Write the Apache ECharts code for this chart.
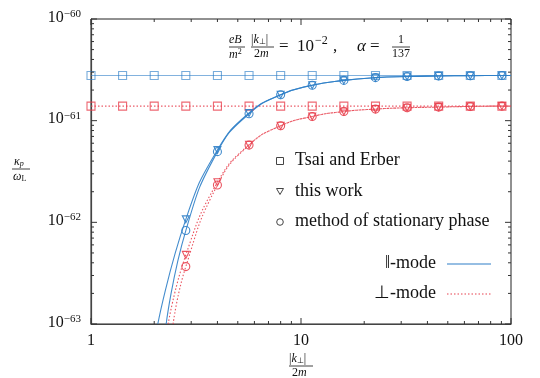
<!DOCTYPE html>
<html>
<head>
<meta charset="UTF-8">
<title>kappa_p vs |k_perp|/2m</title>
<script type="text/javascript" src="https://cdn.jsdelivr.net/npm/echarts@6/dist/echarts.min.js"></script>
<style>
  html, body { margin: 0; padding: 0; background: #fff; }
  #container { width: 540px; height: 378px; }
</style>
</head>
<body>
<div id="container"></div>
<script type="text/javascript">
// sample points |k_perp|/2m (markers)
var xSample = [1, 1.414, 2, 2.828, 4, 5.657, 8, 11.31, 16, 22.63, 32, 45.25, 64, 90.51];
// Tsai and Erber asymptotic values
var parTsai  = [2.78e-61, 2.78e-61, 2.78e-61, 2.78e-61, 2.78e-61, 2.78e-61, 2.78e-61, 2.78e-61, 2.78e-61, 2.78e-61, 2.78e-61, 2.78e-61, 2.78e-61, 2.78e-61];
var perpTsai = [1.39e-61, 1.39e-61, 1.39e-61, 1.39e-61, 1.39e-61, 1.39e-61, 1.39e-61, 1.39e-61, 1.39e-61, 1.39e-61, 1.39e-61, 1.39e-61, 1.39e-61, 1.39e-61];

// points of this work / stationary phase
var xCurve    = [2.828, 4, 5.657, 8, 11.31, 16, 22.63, 32, 45.25, 64, 90.51];
var parWork   = [1.07e-62, 5.15e-62, 1.19e-61, 1.80e-61, 2.23e-61, 2.49e-61, 2.65e-61, 2.72e-61, 2.75e-61, 2.77e-61, 2.78e-61];
var parPhase  = [8.3e-63, 4.96e-62, 1.17e-61, 1.80e-61, 2.23e-61, 2.49e-61, 2.65e-61, 2.72e-61, 2.75e-61, 2.77e-61, 2.78e-61];
var perpWork  = [4.78e-63, 2.48e-62, 5.80e-62, 8.9e-62, 1.10e-61, 1.23e-61, 1.30e-61, 1.34e-61, 1.36e-61, 1.38e-61, 1.39e-61];
var perpPhase = [3.67e-63, 2.33e-62, 5.75e-62, 8.9e-62, 1.10e-61, 1.23e-61, 1.30e-61, 1.34e-61, 1.36e-61, 1.38e-61, 1.39e-61];

// where the curves leave the bottom of the frame, and the right edge
var curveStartX = { parWork: 2.08, parPhase: 2.28, perpWork: 2.33, perpPhase: 2.46 };
var xEnd = 100;

// axis labels
var xTickLabels = ['1', '10', '100'];
var yTickExps = ['\u221263', '\u221262', '\u221261', '\u221260'];
var xMinorTicks = [2, 3, 4, 5, 6, 7, 8, 9, 20, 30, 40, 50, 60, 70, 80, 90];
var xMajorTicks = [1, 10, 100];
var yMinorTicks = [2e-63, 3e-63, 4e-63, 5e-63, 6e-63, 7e-63, 8e-63, 9e-63,
                   2e-62, 3e-62, 4e-62, 5e-62, 6e-62, 7e-62, 8e-62, 9e-62,
                   2e-61, 3e-61, 4e-61, 5e-61, 6e-61, 7e-61, 8e-61, 9e-61];
var yMajorTicks = [1e-63, 1e-62, 1e-61, 1e-60];

var BLUE = '#2f7fc8';
var RED = '#e8414f';
var FONT = 'Liberation Serif';
// plot y in units of 1e-63 (log axis rounding breaks on tiny numbers)
var UNIT = 1e-63;
var Y_MIN = 1, Y_MAX = 1000, X_MIN = 1, X_MAX = 100;

function pairs(xs, ys) {
    var out = [];
    for (var i = 0; i < xs.length; i++) out.push([xs[i], ys[i] / UNIT]);
    return out;
}
function curve(key, ys) {
    var d = [[curveStartX[key], Y_MIN]].concat(pairs(xCurve, ys));
    d.push([xEnd, ys[ys.length - 1] / UNIT]);
    return d;
}
function lineSeries(data, color, type, opacity, smooth) {
    return {
        type: 'line', data: data, symbol: 'none', smooth: smooth || false,
        lineStyle: { color: color, width: 1.1, type: type, opacity: opacity },
        clip: true, silent: true, z: 2
    };
}
function markerSeries(data, color, symbol, size, rotate, opacity) {
    return {
        type: 'scatter', data: data, symbol: symbol, symbolSize: size, symbolRotate: rotate || 0,
        itemStyle: { color: 'rgba(255,255,255,0)', borderColor: color, borderWidth: 1.1, opacity: opacity },
        silent: true, z: 3
    };
}
// ticks drawn on all four sides through the axis scales
function tickSeries(vals, dir, len) {
    return {
        type: 'custom', silent: true, clip: false, z: 5,
        data: vals.map(function (v) { return dir === 'x' ? [v, Y_MIN] : [X_MIN, v / UNIT]; }),
        renderItem: function (params, api) {
            var a, b, shape1, shape2;
            if (dir === 'x') {
                a = api.coord([api.value(0), Y_MIN]);
                b = api.coord([api.value(0), Y_MAX]);
                shape1 = { x1: a[0], y1: a[1], x2: a[0], y2: a[1] - len };
                shape2 = { x1: b[0], y1: b[1], x2: b[0], y2: b[1] + len };
            } else {
                a = api.coord([X_MIN, api.value(1)]);
                b = api.coord([X_MAX, api.value(1)]);
                shape1 = { x1: a[0], y1: a[1], x2: a[0] + len, y2: a[1] };
                shape2 = { x1: b[0], y1: b[1], x2: b[0] - len, y2: b[1] };
            }
            var st = { stroke: '#333', lineWidth: 1 };
            return { type: 'group', children: [
                { type: 'line', shape: shape1, style: st },
                { type: 'line', shape: shape2, style: st }
            ] };
        }
    };
}

var chart = echarts.init(document.getElementById('container'), null, { renderer: 'canvas' });

var legendText = { fontFamily: FONT, fontSize: 18, fill: '#111' };
var ital = function (size) { return { fontFamily: FONT, fontStyle: 'italic', fontSize: size }; };

var option = {
    animation: false,
    backgroundColor: '#fff',
    grid: { left: 91, right: 29, top: 19, bottom: 54, show: true, borderColor: '#222', borderWidth: 1, backgroundColor: 'transparent' },
    xAxis: {
        type: 'log', logBase: 10, min: X_MIN, max: X_MAX,
        axisLine: { show: true, lineStyle: { color: '#444', width: 1.2 } },
        axisTick: { show: false },
        splitLine: { show: false },
        axisLabel: {
            margin: 9, fontFamily: FONT, fontSize: 16, color: '#111',
            formatter: function (v, i) { return xTickLabels[i]; }
        }
    },
    yAxis: {
        type: 'log', logBase: 10, min: Y_MIN, max: Y_MAX,
        axisLine: { show: true, lineStyle: { color: '#444', width: 1.2 } },
        axisTick: { show: false },
        splitLine: { show: false },
        axisLabel: {
            margin: 10, color: '#111', padding: [0, 0, 3, 0],
            formatter: function (v, i) { return '{b|10}{e|' + yTickExps[i] + '}'; },
            rich: {
                b: { fontFamily: FONT, fontSize: 16, color: '#111', lineHeight: 18 },
                e: { fontFamily: FONT, fontSize: 11, color: '#111', lineHeight: 12, verticalAlign: 'top' }
            }
        }
    },
    series: [
        lineSeries(pairs(xSample.concat([xEnd]), parTsai.concat([parTsai[0]])), BLUE, 'solid', 0.6),
        lineSeries(pairs(xSample.concat([xEnd]), perpTsai.concat([perpTsai[0]])), RED, [1.5, 2], 0.85),
        lineSeries(curve('parWork', parWork), BLUE, 'solid', 0.9, 0.5),
        lineSeries(curve('parPhase', parPhase), BLUE, 'solid', 0.9, 0.5),
        lineSeries(curve('perpWork', perpWork), RED, [1.5, 2], 0.9, 0.5),
        lineSeries(curve('perpPhase', perpPhase), RED, [1.5, 2], 0.9, 0.5),
        markerSeries(pairs(xSample, parTsai), BLUE, 'rect', 8, 0, 0.65),
        markerSeries(pairs(xSample, perpTsai), RED, 'rect', 8, 0, 0.8),
        markerSeries(pairs(xCurve, parWork), BLUE, 'triangle', 7, 180, 0.9),
        markerSeries(pairs(xCurve, perpWork), RED, 'triangle', 7, 180, 0.9),
        markerSeries(pairs(xCurve, parPhase), BLUE, 'circle', 8, 0, 0.9),
        markerSeries(pairs(xCurve, perpPhase), RED, 'circle', 8, 0, 0.9),
        tickSeries(xMinorTicks, 'x', 3),
        tickSeries(xMajorTicks, 'x', 6),
        tickSeries(yMinorTicks, 'y', 3),
        tickSeries(yMajorTicks, 'y', 6)
    ],
    graphic: [
        // formula at top
        { type: 'text', left: 229, top: 34, style: Object.assign({ text: 'eB', fill: '#111' }, ital(12)) },
        { type: 'line', shape: { x1: 229, y1: 47, x2: 245, y2: 47 }, style: { stroke: '#111', lineWidth: 0.8 } },
        { type: 'text', left: 229, top: 48, style: { text: '{i|m}{s|2}', fill: '#111', rich: {
            i: { fontFamily: FONT, fontStyle: 'italic', fontSize: 12, lineHeight: 13 },
            s: { fontFamily: FONT, fontSize: 8, lineHeight: 9, verticalAlign: 'top' } } } },
        { type: 'text', left: 251, top: 34, style: { text: '|{i|k}{s|\u22a5}|', fill: '#111', fontFamily: FONT, fontSize: 12, rich: {
            i: ital(12),
            s: { fontFamily: FONT, fontSize: 8, verticalAlign: 'bottom', lineHeight: 10 } } } },
        { type: 'line', shape: { x1: 251, y1: 47, x2: 274, y2: 47 }, style: { stroke: '#111', lineWidth: 0.8 } },
        { type: 'text', left: 254, top: 48, style: { text: '2{i|m}', fill: '#111', fontFamily: FONT, fontSize: 12, rich: { i: ital(12) } } },
        { type: 'text', left: 279, top: 38, style: { text: '=', fill: '#111', fontFamily: FONT, fontSize: 17 } },
        { type: 'text', left: 297, top: 38, style: { text: '10', fill: '#111', fontFamily: FONT, fontSize: 17 } },
        { type: 'text', left: 315, top: 35, style: { text: '\u22122', fill: '#111', fontFamily: FONT, fontSize: 12 } },
        { type: 'text', left: 333, top: 38, style: { text: ',', fill: '#111', fontFamily: FONT, fontSize: 17 } },
        { type: 'text', left: 357, top: 38, style: Object.assign({ text: '\u03b1', fill: '#111' }, ital(17)) },
        { type: 'text', left: 370, top: 38, style: { text: '=', fill: '#111', fontFamily: FONT, fontSize: 17 } },
        { type: 'text', left: 398, top: 34, style: { text: '1', fill: '#111', fontSize: 12, fontFamily: FONT } },
        { type: 'line', shape: { x1: 392, y1: 47, x2: 410, y2: 47 }, style: { stroke: '#111', lineWidth: 0.8 } },
        { type: 'text', left: 392, top: 48, style: { text: '137', fill: '#111', fontSize: 12, fontFamily: FONT } },

        // y axis name
        { type: 'text', left: 14, top: 155, style: { text: '{i|\u03ba}{s|p}', fill: '#111', rich: {
            i: { fontFamily: FONT, fontStyle: 'italic', fontSize: 12, lineHeight: 13 },
            s: { fontFamily: FONT, fontStyle: 'italic', fontSize: 8, verticalAlign: 'bottom', lineHeight: 13, padding: [5, 0, 0, 0] } } } },
        { type: 'line', shape: { x1: 12, y1: 169, x2: 30, y2: 169 }, style: { stroke: '#111', lineWidth: 0.8 } },
        { type: 'text', left: 13, top: 170, style: { text: '{i|\u03c9}{s|L}', fill: '#111', rich: {
            i: { fontFamily: FONT, fontStyle: 'italic', fontSize: 12, lineHeight: 13 },
            s: { fontFamily: FONT, fontSize: 8, verticalAlign: 'bottom', lineHeight: 13, padding: [5, 0, 0, 0] } } } },

        // x axis name
        { type: 'text', left: 289, top: 353, style: { text: '|{i|k}{s|\u22a5}|', fill: '#111', fontFamily: FONT, fontSize: 12, rich: {
            i: ital(12),
            s: { fontFamily: FONT, fontSize: 8, verticalAlign: 'bottom', lineHeight: 10 } } } },
        { type: 'line', shape: { x1: 289, y1: 366, x2: 313, y2: 366 }, style: { stroke: '#111', lineWidth: 0.8 } },
        { type: 'text', left: 292, top: 367, style: { text: '2{i|m}', fill: '#111', fontFamily: FONT, fontSize: 12, rich: { i: ital(12) } } },

        // legend
        { type: 'rect', shape: { x: 276.5, y: 157.5, width: 7, height: 7 }, style: { fill: 'none', stroke: '#444', lineWidth: 1 } },
        { type: 'text', left: 295, top: 151, style: Object.assign({ text: 'Tsai and Erber' }, legendText) },
        { type: 'polygon', shape: { points: [[276.5, 188.5], [283.5, 188.5], [280, 194.5]] }, style: { fill: 'none', stroke: '#444', lineWidth: 1 } },
        { type: 'text', left: 295, top: 182, style: Object.assign({ text: 'this work' }, legendText) },
        { type: 'circle', shape: { cx: 280, cy: 222, r: 3.3 }, style: { fill: 'none', stroke: '#444', lineWidth: 1 } },
        { type: 'text', left: 295, top: 212, style: Object.assign({ text: 'method of stationary phase' }, legendText) },
        { type: 'text', right: 104, top: 254, style: Object.assign({ text: '\u2016-mode', textAlign: 'right' }, legendText) },
        { type: 'line', shape: { x1: 447, y1: 264, x2: 491, y2: 264 }, style: { stroke: BLUE, lineWidth: 1.1 } },
        { type: 'text', right: 104, top: 284, style: Object.assign({ text: '\u22a5-mode', textAlign: 'right' }, legendText) },
        { type: 'line', shape: { x1: 447, y1: 294, x2: 491, y2: 294 }, style: { stroke: RED, lineWidth: 1.1, lineDash: [1.5, 2] } }
    ]
};

chart.setOption(option);
</script>
</body>
</html>
